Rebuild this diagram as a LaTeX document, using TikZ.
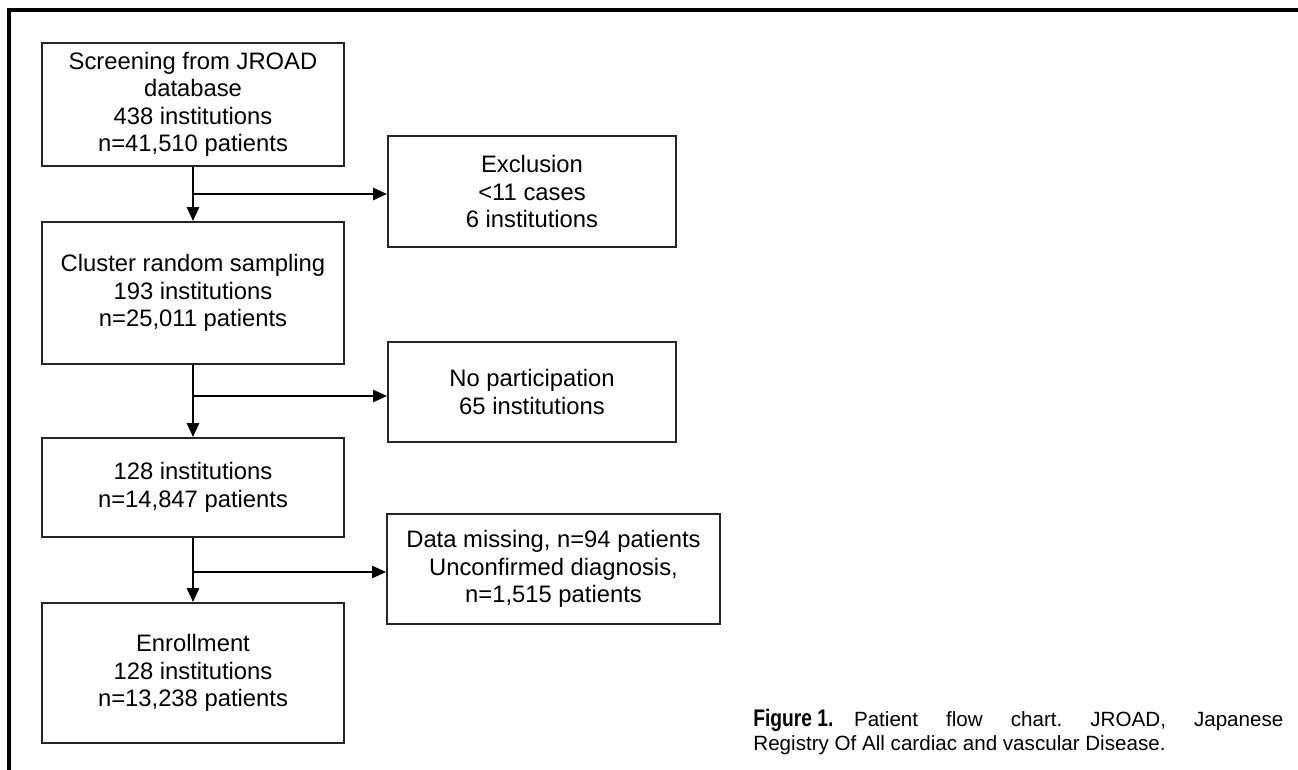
\documentclass[tikz,border=0pt]{standalone}
\usepackage{fontspec}
\setmainfont{Liberation Sans}
\newfontfamily\figlabelfont[FakeStretch=0.8]{Liberation Sans Bold}
\usetikzlibrary{arrows.meta}
\frenchspacing

\begin{document}
\begin{tikzpicture}[x=0.5pt, y=-0.5pt,
  flowbox/.style={draw=black!85, line width=0.9pt, align=center, inner sep=0pt,
    font=\fontsize{11.9}{13.75}\selectfont},
  flowarrow/.style={-{Triangle[length=7pt, width=6pt]}, line width=1.3pt}]
  \useasboundingbox (0,0) rectangle (1298,770);
  % frame, top and left only
  \draw[line width=1.6pt] (9,770) -- (9,10) -- (1298,10);
  % main column
  \node[flowbox, minimum width=151pt, minimum height=61.5pt] (screen) at (193,104.5)
    {Screening from JROAD\\database\\438 institutions\\n=41,510 patients};
  \node[flowbox, minimum width=151pt, minimum height=71pt] (cluster) at (193,293)
    {Cluster random sampling\\193 institutions\\n=25,011 patients};
  \node[flowbox, minimum width=151pt, minimum height=49.5pt] (inst) at (193,487.5)
    {128 institutions\\n=14,847 patients};
  \node[flowbox, minimum width=151pt, minimum height=70pt] (enroll) at (193,673)
    {Enrollment\\128 institutions\\n=13,238 patients};
  % side column
  \node[flowbox, minimum width=144pt, minimum height=55.5pt] (excl) at (532,191.5)
    {Exclusion\\<11 cases\\6 institutions};
  \node[flowbox, minimum width=144pt, minimum height=50pt] (nopart) at (532,392)
    {No participation\\65 institutions};
  \node[flowbox, minimum width=166.5pt, minimum height=55pt] (missing) at (553.5,569)
    {Data missing, n=94 patients\\Unconfirmed diagnosis,\\n=1,515 patients};
  % branch points
  \coordinate (j1) at (193,194);
  \coordinate (j2) at (193,396);
  \coordinate (j3) at (193,572);
  \draw[flowarrow] (screen) -- (cluster);
  \draw[flowarrow] (cluster) -- (inst);
  \draw[flowarrow] (inst) -- (enroll);
  \draw[flowarrow] (j1) -- (j1 -| excl.west);
  \draw[flowarrow] (j2) -- (j2 -| nopart.west);
  \draw[flowarrow] (j3) -- (j3 -| missing.west);
  % caption
  \node[anchor=north west, inner sep=0pt, text width=265pt, align=justify,
    font=\fontsize{10.3}{12}\selectfont] (caption) at (753,709)
    {\mbox{\figlabelfont\fontsize{12}{12}\selectfont Figure 1.}\quad Patient flow chart. JROAD, Japanese\linebreak
     Registry Of All cardiac and vascular Disease.};
\end{tikzpicture}
\end{document}
